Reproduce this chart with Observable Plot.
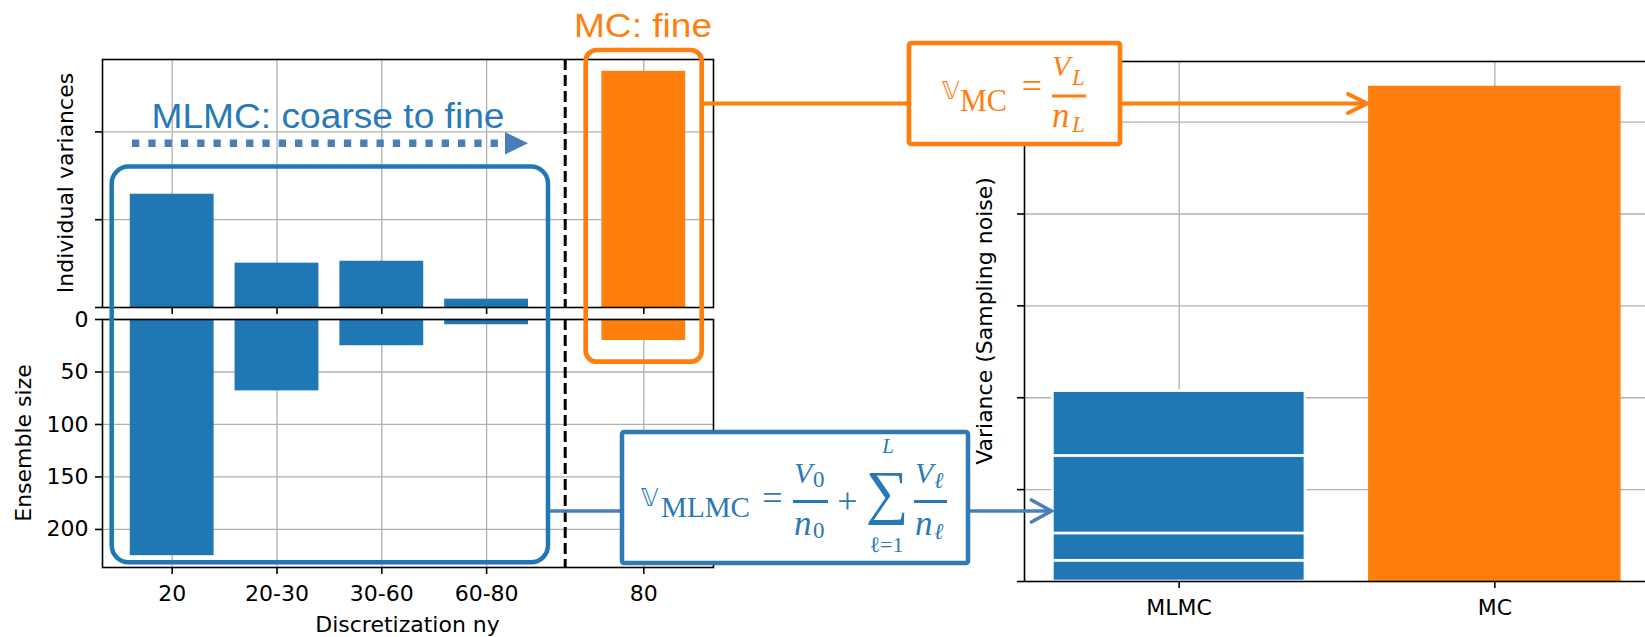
<!DOCTYPE html>
<html><head><meta charset="utf-8">
<script src="https://cdn.jsdelivr.net/npm/d3@7"></script>
<script src="https://cdn.jsdelivr.net/npm/@observablehq/plot@0.6"></script>
<style>
html,body{margin:0;padding:0;background:#fff;}
#fig{position:relative;width:1645px;height:637px;overflow:hidden;background:#fff;}
#fig > svg{position:absolute;left:0;top:0;}
</style></head><body><div id="fig"></div>
<script>
// ---------- data ----------
const levels = ["20", "20-30", "30-60", "60-80", "80"];
const levelMethod = ["MLMC", "MLMC", "MLMC", "MLMC", "MC"];
const individualVariances = [1.29, 0.505, 0.527, 0.095, 2.69];
const ensembleSizes = [225, 68, 25, 5, 20];
const ensembleTicks = [0, 50, 100, 150, 200];
const estimators = ["MLMC", "MC"];
const mlmcContributions = [0.226, 0.297, 0.844, 0.705]; // levels, bottom to top
const mcContributions = [5.39];

// ---------- styles ----------
const BLUE = "#1f77b4", ORANGE = "#ff7f0e", GRID = "#b0b0b0";
const ARROWBLUE = "#4a7ebb", TXTBLUE = "#2a79b7";
const FONT = "DejaVu Sans", SERIF = "Liberation Serif";
const svgStyle = {background: "transparent", maxWidth: "none", overflow: "visible",
  fontFamily: FONT, fontSize: "22px", color: "black"};

// ---------- layout helpers (computed, not data) ----------
const pos = levels.map((d, i) => i + (levelMethod[i] === "MC" ? 0.5 : 0));
const lo = d3.min(pos) - 0.4, hi = d3.max(pos) + 0.4, pad = 0.05 * (hi - lo);
const xDomLeft = [lo - pad, hi + pad];
const lastMLMC = d3.max(pos.filter((p, i) => levelMethod[i] === "MLMC"));
const firstMC = d3.min(pos.filter((p, i) => levelMethod[i] === "MC"));
const separator = (lastMLMC + firstMC) / 2;
const rows = levels.map((d, i) => ({level: d, pos: pos[i], v: individualVariances[i], n: ensembleSizes[i], method: levelMethod[i]}));
const colorScale = {domain: ["MLMC", "MC"], range: [BLUE, ORANGE]};
const tickFmtLevel = p => levels[pos.indexOf(p)];

const fig = document.getElementById("fig");

// ---------- top-left: individual variances ----------
const A = Plot.plot({
  width: 730, height: 320, marginLeft: 102, marginRight: 17, marginTop: 59, marginBottom: 13,
  style: svgStyle,
  x: {type: "linear", domain: xDomLeft},
  y: {domain: [0, d3.max(individualVariances) * 1.05]},
  color: colorScale,
  marks: [
    Plot.gridX(pos, {stroke: GRID, strokeOpacity: 1, strokeWidth: 1.3}),
    Plot.gridY([1, 2], {stroke: GRID, strokeOpacity: 1, strokeWidth: 1.3}),
    Plot.rect(rows, {x1: d => d.pos - 0.4, x2: d => d.pos + 0.4, y1: 0, y2: "v", fill: "method"}),
    Plot.ruleX([separator], {stroke: "black", strokeWidth: 3, strokeDasharray: "11,5"}),
    Plot.frame({stroke: "black", strokeWidth: 1.6}),
    Plot.axisX({ticks: pos, tickSize: 7, tickFormat: () => "", strokeWidth: 1.6, label: null}),
    Plot.axisY({ticks: [0, 1, 2], tickSize: 7, tickFormat: () => "", strokeWidth: 1.6, label: null})
  ]
});
fig.appendChild(A);

// ---------- bottom-left: ensemble size ----------
const B = Plot.plot({
  width: 730, height: 637, marginLeft: 102, marginRight: 17, marginTop: 319, marginBottom: 70,
  style: svgStyle,
  x: {type: "linear", domain: xDomLeft},
  y: {domain: [0, d3.max(ensembleSizes) * 1.05], reverse: true},
  color: colorScale,
  marks: [
    Plot.gridX(pos, {stroke: GRID, strokeOpacity: 1, strokeWidth: 1.3}),
    Plot.gridY(ensembleTicks, {stroke: GRID, strokeOpacity: 1, strokeWidth: 1.3}),
    Plot.rect(rows, {x1: d => d.pos - 0.4, x2: d => d.pos + 0.4, y1: 0, y2: "n", fill: "method"}),
    Plot.ruleX([separator], {stroke: "black", strokeWidth: 3, strokeDasharray: "11,5"}),
    Plot.frame({stroke: "black", strokeWidth: 1.6}),
    Plot.axisX({ticks: pos, tickSize: 7, tickPadding: 11, tickFormat: tickFmtLevel, strokeWidth: 1.6, label: null, fontSize: 22, fontFamily: FONT}),
    Plot.axisY({ticks: ensembleTicks, tickSize: 7, tickPadding: 7, tickFormat: d => String(d), strokeWidth: 1.6, label: null, fontSize: 22, fontFamily: FONT})
  ]
});
fig.appendChild(B);

// ---------- right: total variance ----------
let acc = 0;
const stackRows = mlmcContributions.map((v, i) => { const r = {est: "MLMC", y1: acc, y2: acc + v, level: i}; acc += v; return r; });
const mcRows = mcContributions.map(v => ({est: "MC", y1: 0, y2: v}));
const mlmcTotal = acc;
const C = Plot.plot({
  width: 1700, height: 637, marginLeft: 1024, marginRight: 51, marginTop: 61, marginBottom: 56,
  style: svgStyle,
  x: {type: "linear", domain: [-0.49, estimators.length - 1 + 0.49]},
  y: {domain: [0, Math.max(mlmcTotal, d3.max(mcContributions)) * 1.05]},
  color: colorScale,
  marks: [
    Plot.gridX(estimators.map((d, i) => i), {stroke: GRID, strokeOpacity: 1, strokeWidth: 1.3}),
    Plot.gridY([1, 2, 3, 4, 5], {stroke: GRID, strokeOpacity: 1, strokeWidth: 1.3}),
    Plot.rect(stackRows, {x1: d => estimators.indexOf(d.est) - 0.4, x2: d => estimators.indexOf(d.est) + 0.4, y1: "y1", y2: "y2", fill: "est", stroke: "white", strokeWidth: 2.6}),
    Plot.rect(mcRows, {x1: d => estimators.indexOf(d.est) - 0.4, x2: d => estimators.indexOf(d.est) + 0.4, y1: "y1", y2: "y2", fill: "est"}),
    Plot.frame({stroke: "black", strokeWidth: 1.6}),
    Plot.axisX({ticks: estimators.map((d, i) => i), tickSize: 7, tickPadding: 11, tickFormat: i => estimators[i], strokeWidth: 1.6, label: null, fontSize: 22, fontFamily: FONT}),
    Plot.axisY({ticks: [0, 1, 2, 3, 4, 5], tickSize: 7, tickFormat: () => "", strokeWidth: 1.6, label: null})
  ]
});
fig.appendChild(C);

// ---------- overlay annotations ----------
const xC = C.scale("x");
const ov = d3.select(fig).append("svg").attr("width", 1645).attr("height", 637)
  .style("position", "absolute").style("left", 0).style("top", 0);

function txt(x, y, s, o = {}) {
  const t = ov.append("text").attr("x", x).attr("y", y).text(s)
    .attr("font-family", o.family || FONT).attr("font-size", o.size || 22)
    .attr("fill", o.fill || "black").attr("text-anchor", o.anchor || "start");
  if (o.italic) t.attr("font-style", "italic");
  if (o.len) t.attr("textLength", o.len).attr("lengthAdjust", "spacingAndGlyphs");
  if (o.rot) t.attr("transform", `rotate(-90 ${x} ${y})`);
  return t;
}
// a text built from absolutely placed pieces: [str, x, y, size, italic, family, anchor]
function multi(fill, parts) {
  const t = ov.append("text").attr("fill", fill);
  for (const [s, x, y, size, italic, family, anchor] of parts) {
    const sp = t.append("tspan").attr("x", x).attr("y", y).text(s)
      .attr("font-size", size).attr("font-family", family || SERIF)
      .attr("text-anchor", anchor || "start");
    if (italic) sp.attr("font-style", "italic");
  }
  return t;
}
function line(x1, y1, x2, y2, stroke, w, dash) {
  const l = ov.append("line").attr("x1", x1).attr("y1", y1).attr("x2", x2).attr("y2", y2)
    .attr("stroke", stroke).attr("stroke-width", w);
  if (dash) l.attr("stroke-dasharray", dash);
  return l;
}
function box(x, y, w, h, stroke, sw, rx, fill) {
  return ov.append("rect").attr("x", x).attr("y", y).attr("width", w).attr("height", h)
    .attr("rx", rx).attr("stroke", stroke).attr("stroke-width", sw).attr("fill", fill || "none");
}
function chevron(xt, y, len, half, stroke, w) {
  ov.append("polyline").attr("points", `${xt - len},${y - half} ${xt},${y} ${xt - len},${y + half}`)
    .attr("fill", "none").attr("stroke", stroke).attr("stroke-width", w)
    .attr("stroke-linecap", "round").attr("stroke-linejoin", "miter");
}

// axis titles
txt(73, 183, "Individual variances", {anchor: "middle", rot: true});
txt(31, 443, "Ensemble size", {anchor: "middle", rot: true});
txt(992, 321, "Variance (Sampling noise)", {anchor: "middle", rot: true});
txt(407.5, 632, "Discretization ny", {anchor: "middle"});

// MLMC annotation
box(111.7, 166.5, 436.3, 395.8, BLUE, 4.5, 17);
txt(151.5, 128.3, "MLMC: coarse to fine", {family: "Liberation Sans", size: 35, fill: TXTBLUE, len: 353});
line(132, 143.3, 500, 143.3, ARROWBLUE, 7.5, "7.3,9");
ov.append("polygon").attr("points", "505,132 528,143.3 505,154.5").attr("fill", ARROWBLUE);

// MC annotation
box(585.7, 50, 116, 311.7, ORANGE, 4.7, 11);
txt(574, 37.3, "MC: fine", {family: "Liberation Sans", size: 34, fill: ORANGE, len: 138});

// connectors and arrows
const mcLeft = xC.apply(estimators.indexOf("MC") - 0.4);
const mlmcLeft = xC.apply(estimators.indexOf("MLMC") - 0.4);
line(704, 103.5, 909, 103.5, ORANGE, 4);
line(1120, 103.5, mcLeft - 2, 103.5, ORANGE, 4);
chevron(mcLeft - 1, 103.5, 19, 9.5, ORANGE, 4);
line(550, 511, 622, 511, ARROWBLUE, 3.6);
line(968, 511, mlmcLeft - 2, 511, ARROWBLUE, 3.6);
chevron(mlmcLeft - 1, 511, 20, 11, ARROWBLUE, 3.6);

// MC formula box:  V_MC = V_L / n_L
box(909, 43, 211, 101, ORANGE, 4.7, 2, "white");
txt(942, 99, "𝕍", {size: 24, fill: ORANGE});
txt(960, 111, "MC", {family: SERIF, size: 32, fill: ORANGE, len: 47});
txt(1032, 98, "=", {family: SERIF, size: 36, fill: ORANGE, anchor: "middle"});
line(1052, 96, 1086, 96, ORANGE, 3);
multi(ORANGE, [["V", 1052, 76, 30, true], ["L", 1072, 85, 23, true]]);
multi(ORANGE, [["n", 1052, 127, 35, true], ["L", 1072, 132, 23, true]]);

// MLMC formula box:  V_MLMC = V_0/n_0 + sum_{l=1}^{L} V_l/n_l
box(622, 432, 346, 131, "#2e7ab6", 4.5, 2, "white");
txt(641, 506, "𝕍", {size: 24, fill: TXTBLUE});
txt(661, 517, "MLMC", {family: SERIF, size: 30, fill: TXTBLUE, len: 89});
txt(772.5, 510, "=", {family: SERIF, size: 36, fill: TXTBLUE, anchor: "middle"});
line(793, 501.5, 828, 501.5, TXTBLUE, 2.8);
multi(TXTBLUE, [["V", 794, 483, 30, true], ["0", 813, 487, 23, false]]);
multi(TXTBLUE, [["n", 794, 535, 35, true], ["0", 813, 538, 23, false]]);
txt(847.5, 513, "+", {family: SERIF, size: 36, fill: TXTBLUE, anchor: "middle"});
multi(TXTBLUE, [["L", 888, 453, 21, true, SERIF, "middle"], ["∑", 887, 512, 60, false, SERIF, "middle"], ["ℓ=1", 886.5, 552, 22, false, SERIF, "middle"]]);
line(914, 501.5, 947, 501.5, TXTBLUE, 2.8);
multi(TXTBLUE, [["V", 915, 483, 30, true], ["ℓ", 934, 488, 23, true]]);
multi(TXTBLUE, [["n", 915, 535, 35, true], ["ℓ", 934, 539, 23, true]]);
</script></body></html>
